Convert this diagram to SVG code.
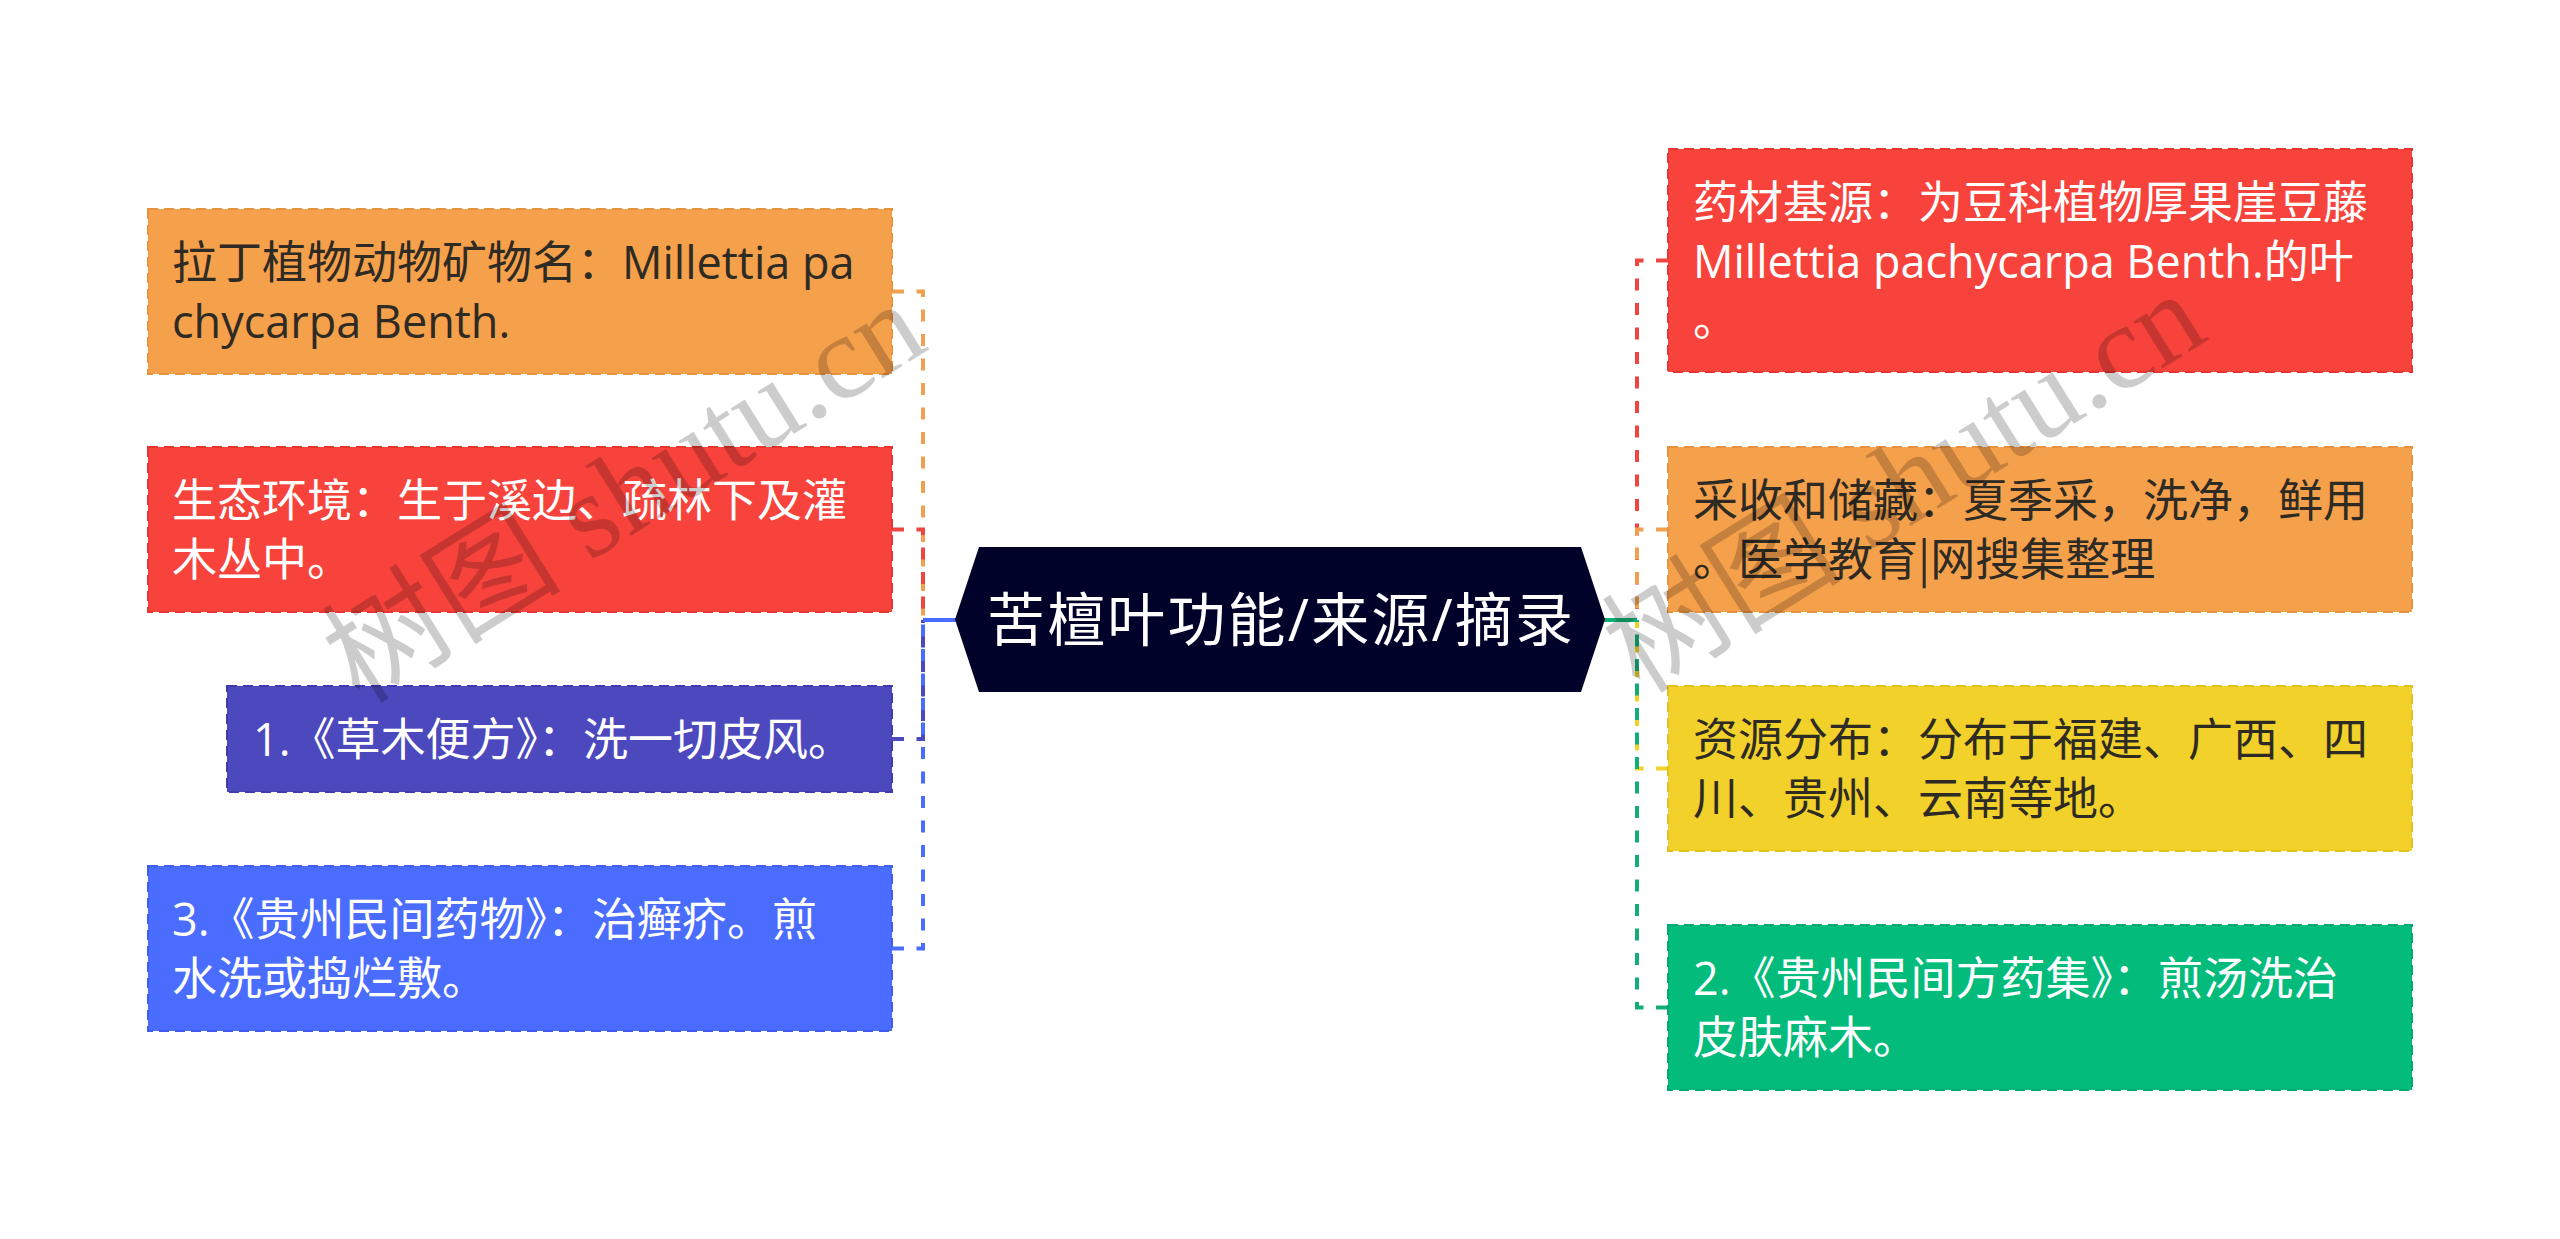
<svg xmlns="http://www.w3.org/2000/svg" width="2560" height="1239" viewBox="0 0 2560 1239">
<style>
.t{font-family:"Open Sans","Noto Sans CJK SC",sans-serif;font-size:45px}
.w{fill:#ffffff}
.d{fill:#2e2a24}
.box{stroke-width:2;stroke-dasharray:10 6}
.c{fill:none;stroke-width:4;stroke-dasharray:12 12.5}
.wm{font-family:"Liberation Serif","Noto Sans CJK SC",serif;font-size:120px;fill:#000000;fill-opacity:0.2}
</style>
<rect width="2560" height="1239" fill="#ffffff"/>
<g id="connectors">
<path class="c" stroke="#F0A04E" d="M892,291.5 H923 V620"/>
<path class="c" stroke="#EE4540" d="M892,529.5 H923 V620"/>
<path class="c" stroke="#4C48BE" d="M892,739 H923 V620"/>
<path class="c" stroke="#4A6CFF" d="M892,948.5 H923 V620"/>
<path d="M923,620 H958" stroke="#4A6CFF" stroke-width="4" fill="none"/>
<path class="c" stroke="#EE4540" d="M1668,260.5 H1637 V620"/>
<path class="c" stroke="#F0A04E" d="M1668,529.5 H1637 V620"/>
<path class="c" stroke="#F1D12A" d="M1668,768.5 H1637 V620"/>
<path class="c" stroke="#14AE74" d="M1668,1007.5 H1637 V620"/>
<path d="M1602,620 H1637" stroke="#14AE74" stroke-width="4" fill="none"/>
</g>
<g id="root">
<polygon points="955,619.5 979,547 1581,547 1605,619.5 1581,692 979,692" fill="#000229"/>
<text class="t w" x="987" y="641" style="font-size:58px" textLength="586" lengthAdjust="spacing">苦檀叶功能/来源/摘录</text>
</g>
<g id="n-l1">
<rect class="box" x="148" y="209" width="744" height="165" fill="#F5A04B" stroke="#E8923E"/>
<text class="t d" x="172" y="279">拉丁植物动物矿物名：Millettia pa</text>
<text class="t d" x="172" y="337.5">chycarpa Benth.</text>
</g>
<g id="n-l2">
<rect class="box" x="148" y="447" width="744" height="165" fill="#F8433C" stroke="#E5362F"/>
<text class="t w" x="172" y="517">生态环境：生于溪边、疏林下及灌</text>
<text class="t w" x="172" y="575.5">木丛中。</text>
</g>
<g id="n-l3">
<rect class="box" x="227" y="686" width="665" height="106" fill="#4C48BE" stroke="#3F3BAE"/>
<text class="t w" x="253" y="756">1.《草木便方》：洗一切皮风。</text>
</g>
<g id="n-l4">
<rect class="box" x="148" y="866" width="744" height="165" fill="#4A6CFF" stroke="#3D5EEE"/>
<text class="t w" x="172" y="936">3.《贵州民间药物》：治癣疥。煎</text>
<text class="t w" x="172" y="994.5">水洗或捣烂敷。</text>
</g>
<g id="n-r1">
<rect class="box" x="1668" y="149" width="744" height="223" fill="#F8433C" stroke="#E5362F"/>
<text class="t w" x="1693" y="219">药材基源：为豆科植物厚果崖豆藤</text>
<text class="t w" x="1693" y="277.5">Millettia pachycarpa Benth.的叶</text>
<text class="t w" x="1693" y="336">。</text>
</g>
<g id="n-r2">
<rect class="box" x="1668" y="447" width="744" height="165" fill="#F5A04B" stroke="#E8923E"/>
<text class="t d" x="1693" y="517">采收和储藏：夏季采，洗净，鲜用</text>
<text class="t d" x="1693" y="575.5">。医学教育<tspan style="font-family:'Noto Sans CJK SC',sans-serif">|</tspan>网搜集整理</text>
</g>
<g id="n-r3">
<rect class="box" x="1668" y="686" width="744" height="165" fill="#F1D12A" stroke="#E0C01C"/>
<text class="t d" x="1693" y="756">资源分布：分布于福建、广西、四</text>
<text class="t d" x="1693" y="814.5">川、贵州、云南等地。</text>
</g>
<g id="n-r4">
<rect class="box" x="1668" y="925" width="744" height="165" fill="#03BB7B" stroke="#02A96E"/>
<text class="t w" x="1693" y="995">2.《贵州民间方药集》：煎汤洗治</text>
<text class="t w" x="1693" y="1053.5">皮肤麻木。</text>
</g>
<g id="watermarks">
<text class="wm" transform="translate(360,705) rotate(-32)">树图 shutu.cn</text>
<text class="wm" transform="translate(1640,695) rotate(-32)">树图 shutu.cn</text>
</g>
</svg>
